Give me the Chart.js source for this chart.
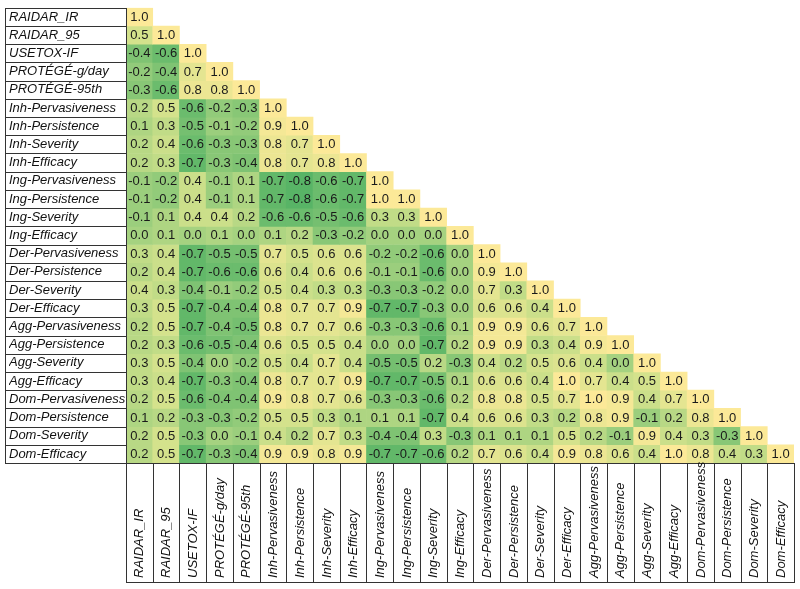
<!DOCTYPE html>
<html><head><meta charset="utf-8">
<script src="https://cdn.jsdelivr.net/npm/chart.js@4.4.1/dist/chart.umd.min.js"></script>
<style>html,body{margin:0;padding:0;background:#fff}#wrap{width:800px;height:589px;position:relative}</style>
</head><body><div id="wrap"><canvas id="c"></canvas></div>
<script>
// Variable names (rows top->bottom, columns left->right)
const variables = ["RAIDAR_IR","RAIDAR_95","USETOX-IF","PROTÉGÉ-g/day","PROTÉGÉ-95th",
  "Inh-Pervasiveness","Inh-Persistence","Inh-Severity","Inh-Efficacy",
  "Ing-Pervasiveness","Ing-Persistence","Ing-Severity","Ing-Efficacy",
  "Der-Pervasiveness","Der-Persistence","Der-Severity","Der-Efficacy",
  "Agg-Pervasiveness","Agg-Persistence","Agg-Severity","Agg-Efficacy",
  "Dom-Pervasiveness","Dom-Persistence","Dom-Severity","Dom-Efficacy"];

// Lower triangle of the correlation matrix, one row per variable
const corrLower = [
  [1.0],
  [0.5,1.0],
  [-0.4,-0.6,1.0],
  [-0.2,-0.4,0.7,1.0],
  [-0.3,-0.6,0.8,0.8,1.0],
  [0.2,0.5,-0.6,-0.2,-0.3,1.0],
  [0.1,0.3,-0.5,-0.1,-0.2,0.9,1.0],
  [0.2,0.4,-0.6,-0.3,-0.3,0.8,0.7,1.0],
  [0.2,0.3,-0.7,-0.3,-0.4,0.8,0.7,0.8,1.0],
  [-0.1,-0.2,0.4,-0.1,0.1,-0.7,-0.8,-0.6,-0.7,1.0],
  [-0.1,-0.2,0.4,-0.1,0.1,-0.7,-0.8,-0.6,-0.7,1.0,1.0],
  [-0.1,0.1,0.4,0.4,0.2,-0.6,-0.6,-0.5,-0.6,0.3,0.3,1.0],
  [0.0,0.1,0.0,0.1,0.0,0.1,0.2,-0.3,-0.2,0.0,0.0,0.0,1.0],
  [0.3,0.4,-0.7,-0.5,-0.5,0.7,0.5,0.6,0.6,-0.2,-0.2,-0.6,0.0,1.0],
  [0.2,0.4,-0.7,-0.6,-0.6,0.6,0.4,0.6,0.6,-0.1,-0.1,-0.6,0.0,0.9,1.0],
  [0.4,0.3,-0.4,-0.1,-0.2,0.5,0.4,0.3,0.3,-0.3,-0.3,-0.2,0.0,0.7,0.3,1.0],
  [0.3,0.5,-0.7,-0.4,-0.4,0.8,0.7,0.7,0.9,-0.7,-0.7,-0.3,0.0,0.6,0.6,0.4,1.0],
  [0.2,0.5,-0.7,-0.4,-0.5,0.8,0.7,0.7,0.6,-0.3,-0.3,-0.6,0.1,0.9,0.9,0.6,0.7,1.0],
  [0.2,0.3,-0.6,-0.5,-0.4,0.6,0.5,0.5,0.4,0.0,0.0,-0.7,0.2,0.9,0.9,0.3,0.4,0.9,1.0],
  [0.3,0.5,-0.4,0.0,-0.2,0.5,0.4,0.7,0.4,-0.5,-0.5,0.2,-0.3,0.4,0.2,0.5,0.6,0.4,0.0,1.0],
  [0.3,0.4,-0.7,-0.3,-0.4,0.8,0.7,0.7,0.9,-0.7,-0.7,-0.5,0.1,0.6,0.6,0.4,1.0,0.7,0.4,0.5,1.0],
  [0.2,0.5,-0.6,-0.4,-0.4,0.9,0.8,0.7,0.6,-0.3,-0.3,-0.6,0.2,0.8,0.8,0.5,0.7,1.0,0.9,0.4,0.7,1.0],
  [0.1,0.2,-0.3,-0.3,-0.2,0.5,0.5,0.3,0.1,0.1,0.1,-0.7,0.4,0.6,0.6,0.3,0.2,0.8,0.9,-0.1,0.2,0.8,1.0],
  [0.2,0.5,-0.3,0.0,-0.1,0.4,0.2,0.7,0.3,-0.4,-0.4,0.3,-0.3,0.1,0.1,0.1,0.5,0.2,-0.1,0.9,0.4,0.3,-0.3,1.0],
  [0.2,0.5,-0.7,-0.3,-0.4,0.9,0.9,0.8,0.9,-0.7,-0.7,-0.6,0.2,0.7,0.6,0.4,0.9,0.8,0.6,0.4,1.0,0.8,0.4,0.3,1.0]
];

// colour scale (green -> yellow)
const colorStops = [
  [-0.8, [88,180,102]],
  [0.0,  [165,210,128]],
  [0.5,  [212,226,140]],
  [1.0,  [252,233,152]]
];
function colorFor(v) {
  if (v <= colorStops[0][0]) return 'rgb(' + colorStops[0][1].join(',') + ')';
  for (let k = 1; k < colorStops.length; k++) {
    const [v1, c1] = colorStops[k];
    const [v0, c0] = colorStops[k - 1];
    if (v <= v1) {
      const t = (v - v0) / (v1 - v0);
      const c = c0.map((a, i) => Math.round(a + (c1[i] - a) * t));
      return 'rgb(' + c.join(',') + ')';
    }
  }
  return 'rgb(' + colorStops[colorStops.length - 1][1].join(',') + ')';
}

const datasets = corrLower.map((row, i) => ({
  label: variables[i],
  data: variables.map((_, j) => j < row.length ? [i - 0.5, i + 0.5] : null),
  backgroundColor: variables.map((_, j) => j < row.length ? colorFor(row[j]) : 'rgba(0,0,0,0)'),
  values: row,
  borderWidth: 0,
  grouped: false,
  barPercentage: 1,
  categoryPercentage: 1
}));

const FONT = "'Liberation Sans', Arial, Helvetica, sans-serif";

const cellText = {
  id: 'cellText',
  afterDatasetsDraw(chart) {
    const ctx = chart.ctx;
    ctx.save();
    ctx.font = '13px ' + FONT;
    ctx.fillStyle = '#1a1a1a';
    ctx.textAlign = 'center';
    ctx.textBaseline = 'middle';
    chart.data.datasets.forEach((ds, i) => {
      const meta = chart.getDatasetMeta(i);
      ds.values.forEach((v, j) => {
        const el = meta.data[j];
        if (!el) return;
        const y = (el.y + el.base) / 2;
        ctx.fillText(v.toFixed(1), el.x, y + 0.5);
      });
    });
    ctx.restore();
  }
};

const frames = {
  id: 'frames',
  afterDraw(chart) {
    const ctx = chart.ctx;
    const xs = chart.scales.x, ys = chart.scales.y;
    const ca = chart.chartArea;
    const boxLeft = 5.5;
    const bottomEnd = 582.5;
    ctx.save();
    ctx.strokeStyle = '#333';
    ctx.lineWidth = 1;
    // left label boxes
    for (let i = 0; i < variables.length; i++) {
      const yT = Math.round(ys.getPixelForValue(i - 0.5)) + 0.5;
      const yB = Math.round(ys.getPixelForValue(i + 0.5)) + 0.5;
      ctx.strokeRect(boxLeft, yT, Math.round(ca.left) - boxLeft + 0.5, yB - yT);
    }
    // bottom label boxes
    const w = (ca.right - ca.left) / variables.length;
    const topB = Math.round(ca.bottom) + 0.5;
    for (let j = 0; j < variables.length; j++) {
      const xc = xs.getPixelForValue(j);
      const xL = Math.round(xc - w / 2) + 0.5;
      const xR = Math.round(xc + w / 2) + 0.5;
      ctx.strokeRect(xL, topB, xR - xL, bottomEnd - topB);
    }
    // bottom labels (rotated)
    ctx.fillStyle = '#111';
    ctx.font = 'italic 13px ' + FONT;
    ctx.textAlign = 'left';
    ctx.textBaseline = 'middle';
    for (let j = 0; j < variables.length; j++) {
      const xc = xs.getPixelForValue(j);
      ctx.save();
      ctx.translate(xc + 0.5, 578);
      ctx.rotate(-Math.PI / 2);
      ctx.fillText(variables[j], 0, 0);
      ctx.restore();
    }
    ctx.restore();
  }
};

new Chart(document.getElementById('c'), {
  type: 'bar',
  data: { labels: variables, datasets },
  options: {
    responsive: true,
    maintainAspectRatio: false,
    animation: false,
    layout: { padding: { left: 9, top: 5, right: 6, bottom: 6 } },
    plugins: { legend: { display: false }, tooltip: { enabled: false } },
    scales: {
      x: {
        type: 'category',
        offset: true,
        grid: { display: false },
        border: { display: false },
        ticks: { display: false },
        afterFit(s) { s.height = 120; }
      },
      y: {
        type: 'linear',
        min: -0.5,
        max: 24.5,
        reverse: true,
        grid: { display: false },
        border: { display: false },
        afterBuildTicks(s) { s.ticks = variables.map((_, i) => ({ value: i })); },
        ticks: {
          autoSkip: false,
          crossAlign: 'far',
          padding: 0,
          color: '#111',
          font: { family: FONT, size: 13, style: 'italic' },
          callback: (v) => variables[v]
        },
        afterFit(s) { s.width = 117; }
      }
    }
  },
  plugins: [cellText, frames]
});
</script>
</body></html>
